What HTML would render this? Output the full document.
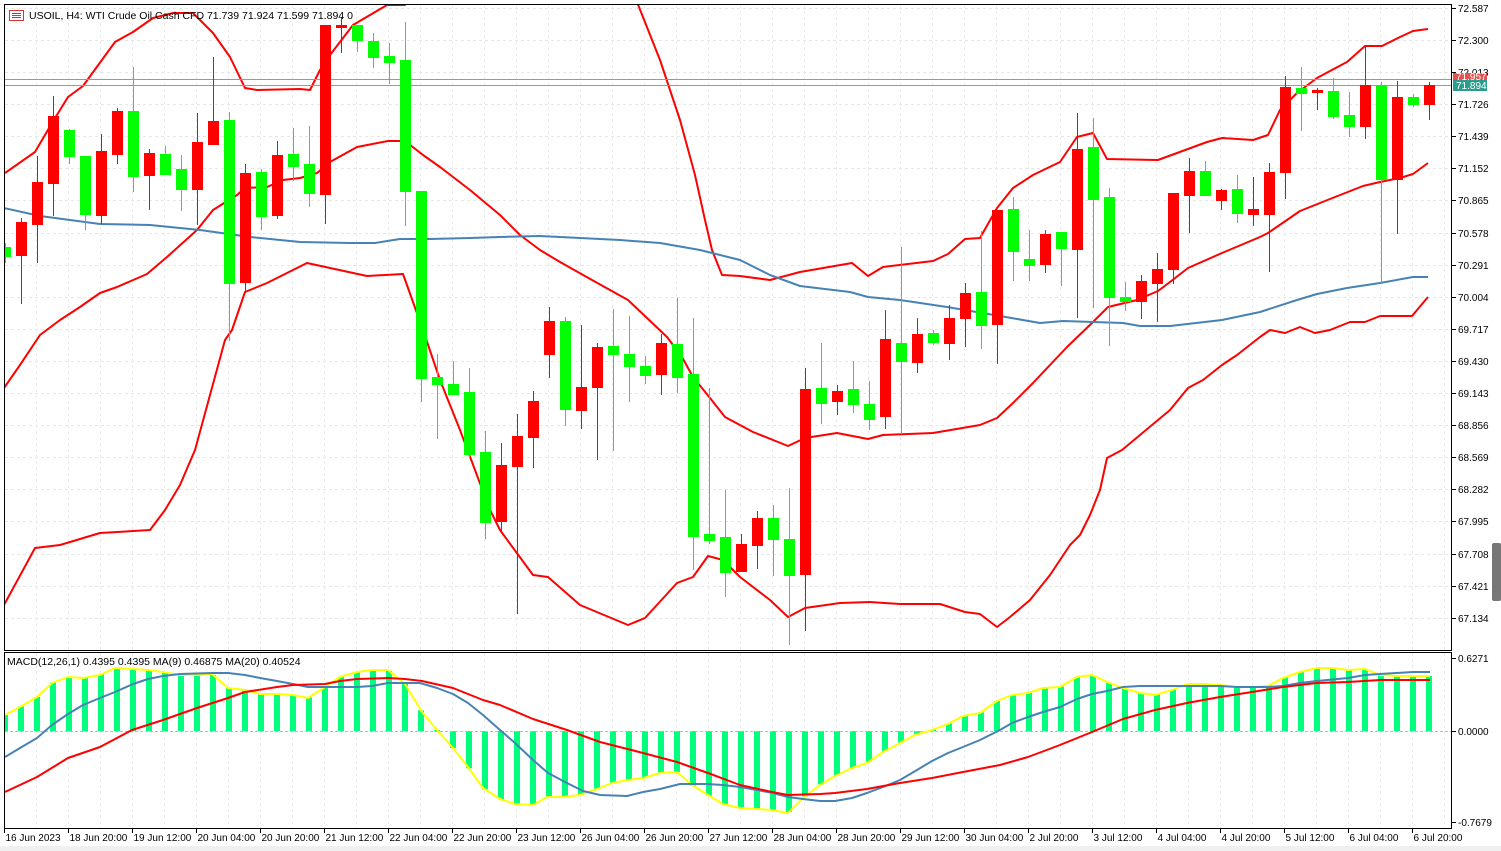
<!DOCTYPE html>
<html><head><meta charset="utf-8"><style>
html,body{margin:0;padding:0;background:#fff;width:1501px;height:851px;overflow:hidden}
svg{display:block;font-family:"Liberation Sans",sans-serif}
</style></head><body>
<svg id="s" width="1501" height="851" xmlns="http://www.w3.org/2000/svg">
<rect x="0" y="0" width="1501" height="851" fill="#fff"/>
<rect x="0" y="846" width="1501" height="5" fill="#f0f0f0"/>
<g id="grid"></g>
<defs>
<clipPath id="cm"><rect x="5" y="5" width="1446" height="645"/></clipPath>
<clipPath id="cd"><rect x="5" y="653" width="1446" height="175"/></clipPath>
</defs>
<g id="main" clip-path="url(#cm)"></g>
<g id="macd" clip-path="url(#cd)"></g>
<rect x="4.5" y="4.5" width="1447" height="646" fill="none" stroke="#000"/>
<rect x="4.5" y="652.5" width="1447" height="176" fill="none" stroke="#000"/>
<g id="axis" font-size="10" fill="#000"></g>
<!-- header -->
<rect x="9.5" y="10.5" width="14" height="10" fill="#fff" stroke="#d33"/>
<line x1="12" y1="13.5" x2="21" y2="13.5" stroke="#36c"/><line x1="12" y1="15.5" x2="21" y2="15.5" stroke="#d33"/><line x1="12" y1="17.5" x2="21" y2="17.5" stroke="#36c"/>
<text x="29" y="19" font-size="10.5">USOIL, H4:  WTI Crude Oil Cash CFD  71.739 71.924 71.599 71.894  0</text>
<text x="7" y="665" font-size="10.5">MACD(12,26,1) 0.4395 0.4395 MA(9) 0.46875 MA(20) 0.40524</text>
<rect x="1453" y="73" width="34" height="8" fill="#e85050"/>
<text x="1456" y="80" font-size="10" fill="#fff">71.957</text>
<rect x="1453" y="80" width="34" height="11" fill="#2a9d8f"/>
<text x="1456" y="89" font-size="10" fill="#fff">71.894</text>
<rect x="1492" y="543" width="9" height="58" rx="2" fill="#777"/>
</svg>
<script>
var NS="http://www.w3.org/2000/svg";
function el(p,t,a,txt){var e=document.createElementNS(NS,t);for(var k in a)e.setAttribute(k,a[k]);if(txt!==undefined)e.textContent=txt;document.getElementById(p).appendChild(e);return e;}
function pl(p,pts,c,w){el(p,"polyline",{points:pts.map(function(q){return q.join(",")}).join(" "),fill:"none",stroke:c,"stroke-width":w||2,"stroke-linejoin":"round"});}
// grid
var py=[8,40,72,104,136,168,200,233,265,297,329,361,393,425,457,489,521,554,586,618];
var pl_=["72.587","72.300","72.013","71.726","71.439","71.152","70.865","70.578","70.291","70.004","69.717","69.430","69.143","68.856","68.569","68.282","67.995","67.708","67.421","67.134"];
py.forEach(function(y,i){el("grid","line",{x1:5,x2:1451,y1:y+.5,y2:y+.5,stroke:"#e6e6e6","stroke-dasharray":"3,3"});
 el("axis","line",{x1:1451,x2:1456,y1:y+.5,y2:y+.5,stroke:"#000"});
 el("axis","text",{x:1458,y:y+4},pl_[i]);});
for(var x=36.5;x<1451;x+=32){el("grid","line",{x1:x,x2:x,y1:5,y2:650,stroke:"#ebebeb","stroke-dasharray":"3,3"});el("grid","line",{x1:x,x2:x,y1:653,y2:828,stroke:"#ebebeb","stroke-dasharray":"3,3"});}
// macd axis
[[658,"0.6271"],[731,"0.0000"],[822,"-0.7679"]].forEach(function(a){el("axis","line",{x1:1451,x2:1456,y1:a[0]+.5,y2:a[0]+.5,stroke:"#000"});el("axis","text",{x:1458,y:a[0]+4},a[1]);});
// time
var tl=["16 Jun 2023","18 Jun 20:00","19 Jun 12:00","20 Jun 04:00","20 Jun 20:00","21 Jun 12:00","22 Jun 04:00","22 Jun 20:00","23 Jun 12:00","26 Jun 04:00","26 Jun 20:00","27 Jun 12:00","28 Jun 04:00","28 Jun 20:00","29 Jun 12:00","30 Jun 04:00","2 Jul 20:00","3 Jul 12:00","4 Jul 04:00","4 Jul 20:00","5 Jul 12:00","6 Jul 04:00","6 Jul 20:00"];
tl.forEach(function(t,i){var x=4.5+64*i;el("axis","line",{x1:x,x2:x,y1:828,y2:833,stroke:"#000"});el("axis","text",{x:x+1+(i==0?0:0),y:841},t);});
// bands & MAs
pl("main",[[4,605],[35,548],[60,545],[100,533],[150,530],[165,510],[180,485],[195,450],[210,395],[225,340],[232,330],[245,292],[267,283],[307,263],[367,276],[403,274],[423,330],[440,380],[460,430],[475,470],[490,510],[500,530],[533,575],[548,577],[580,605],[628,625],[645,618],[677,583],[693,577],[708,556],[723,560],[740,577],[770,600],[788,617],[805,608],[840,603],[870,602],[900,604],[940,604],[965,612],[980,614],[997,627],[1010,617],[1030,600],[1050,575],[1070,545],[1080,535],[1090,515],[1100,490],[1107,458],[1122,450],[1140,435],[1170,410],[1188,388],[1203,380],[1222,365],[1237,355],[1260,337],[1270,330],[1285,333],[1300,327],[1315,333],[1330,330],[1350,322],[1365,322],[1380,316],[1412,316],[1428,297]],"#f00");
pl("main",[[4,388],[20,365],[40,335],[60,320],[80,307],[100,293],[117,287],[147,274],[167,257],[197,230],[213,210],[237,195],[245,188],[267,187],[283,180],[300,178],[317,173],[330,162],[357,147],[388,141],[405,141],[423,155],[440,167],[470,190],[500,215],[520,235],[540,250],[560,262],[592,280],[628,300],[647,318],[667,337],[682,357],[693,377],[710,398],[725,417],[753,432],[788,446],[805,438],[837,433],[868,439],[883,435],[933,433],[980,425],[997,418],[1013,403],[1033,383],[1067,347],[1093,322],[1108,307],[1137,300],[1158,291],[1170,282],[1188,268],[1222,253],[1260,237],[1268,233],[1300,211],[1330,199],[1363,186],[1380,182],[1400,178],[1413,174],[1428,163]],"#f00");
pl("main",[[5,173],[35,152],[52,123],[68,97],[83,86],[115,42],[133,32],[153,18],[173,13],[193,13],[213,33],[230,57],[245,88],[257,90],[300,89],[310,90],[320,70],[330,55],[353,25],[387,5],[405,5],[405,-5]],"#f00");
pl("main",[[637,2],[660,60],[680,120],[695,175],[705,220],[712,250],[722,275],[740,276],[770,280],[800,272],[852,263],[868,276],[883,267],[933,261],[948,254],[965,239],[980,238],[997,208],[1013,188],[1033,175],[1060,162],[1077,137],[1093,133],[1107,159],[1158,160],[1207,142],[1222,138],[1253,140],[1268,135],[1280,110],[1297,93],[1317,78],[1330,71],[1347,62],[1365,46],[1382,46],[1400,37],[1413,31],[1428,29]],"#f00");
pl("main",[[4,208],[40,216],[100,224],[150,225],[200,230],[250,237],[300,242],[350,243],[375,243],[400,239],[430,239],[470,238],[500,237],[540,236],[580,238],[620,240],[660,243],[700,250],[740,260],[770,275],[800,286],[850,292],[868,297],[900,300],[947,307],[1000,316],[1040,323],[1063,321],[1123,323],[1140,326],[1170,326],[1222,320],[1260,312],[1297,300],[1317,294],[1347,288],[1380,283],[1413,277],[1428,277]],"#4682b4");
// price lines
el("main","line",{x1:5,x2:1451,y1:79.5,y2:79.5,stroke:"#999"});
el("main","line",{x1:5,x2:1451,y1:85.5,y2:85.5,stroke:"#999"});
// candles
var C=[[247,256,243,262,'g'],[222,255,218,303,'r'],[182,224,156,262,'r'],[116,183,96,215,'r'],[130,156,129,163,'g'],[156,214,156,229,'g'],[151,215,134,223,'r'],[111,154,108,163,'r'],[111,176,67,191,'g'],[153,175,149,209,'r'],[154,174,146,174,'g'],[169,189,155,210,'g'],[142,189,113,224,'r'],[121,144,57,144,'r'],[120,283,112,340,'g'],[173,282,164,290,'r'],[172,216,169,229,'g'],[155,215,141,218,'r'],[154,166,128,180,'g'],[164,193,126,206,'g'],[25,194,25,223,'r'],[25,27,17,52,'r'],[25,40,25,51,'g'],[41,57,33,67,'g'],[56,62,43,83,'g'],[60,191,22,225,'g'],[191,378,191,401,'g'],[377,384,354,438,'g'],[384,394,361,394,'g'],[392,454,368,457,'g'],[452,522,431,538,'g'],[465,521,443,530,'r'],[436,466,414,613,'r'],[401,437,391,467,'r'],[321,354,307,377,'r'],[321,409,317,425,'g'],[387,410,325,428,'r'],[347,387,343,459,'r'],[346,354,309,450,'g'],[354,366,316,401,'g'],[366,375,356,383,'g'],[343,374,334,394,'r'],[344,377,298,392,'g'],[374,536,318,569,'g'],[534,540,388,543,'g'],[537,572,490,596,'g'],[544,571,534,571,'r'],[518,545,511,568,'r'],[518,539,505,575,'g'],[539,575,488,644,'g'],[389,574,368,630,'r'],[388,403,343,423,'g'],[391,401,385,414,'r'],[389,404,361,412,'g'],[404,419,381,429,'g'],[339,416,310,428,'r'],[343,361,247,433,'g'],[334,362,318,372,'r'],[333,342,330,344,'g'],[318,343,305,359,'r'],[293,318,283,346,'r'],[292,325,231,348,'g'],[210,324,210,363,'r'],[209,251,197,280,'g'],[259,265,230,280,'g'],[234,264,230,272,'r'],[232,248,232,285,'g'],[149,249,113,317,'r'],[147,199,118,307,'g'],[197,297,188,345,'g'],[297,301,282,310,'g'],[281,301,275,318,'r'],[269,283,253,321,'r'],[193,269,193,283,'r'],[171,195,158,232,'r'],[171,195,161,195,'g'],[190,200,189,209,'r'],[189,213,175,222,'g'],[209,214,177,225,'r'],[172,214,163,271,'r'],[87,172,76,198,'r'],[88,93,67,130,'g'],[90,92,88,109,'r'],[91,116,78,118,'g'],[115,126,92,136,'g'],[85,126,45,138,'r'],[85,179,82,283,'g'],[97,179,81,233,'r'],[97,104,94,106,'g'],[85,104,82,119,'r']];
C.forEach(function(c,i){var cx=5+16*i,col=c[4]=='g'?"#00ff00":"#ff0000";
 el("main","rect",{x:cx,y:c[2],width:1,height:c[3]-c[2]+1,fill:col});
 el("main","rect",{x:cx-5,y:c[0],width:11,height:Math.max(2,c[1]-c[0]+1),fill:col});});
// MACD
var Y=[[5,715],[20,707],[37,697],[52,683],[68,677],[83,678],[100,675],[115,668],[132,669],[148,670],[163,672],[180,675],[197,675],[212,674],[228,688],[245,690],[260,694],[277,694],[293,695],[308,698],[325,687],[340,677],[357,672],[372,670],[388,670],[405,684],[422,712],[437,730],[453,748],[468,767],[483,788],[500,799],[515,804],[533,805],[547,797],[563,797],[580,795],[597,789],[612,783],[628,780],[643,778],[660,773],[677,772],[692,785],[708,795],[723,804],[740,808],[757,809],[772,810],[788,813],[803,798],[820,785],[835,776],[852,768],[867,763],[883,752],[900,743],[915,735],[932,730],[948,724],[963,716],[980,713],[997,701],[1012,695],[1028,693],[1043,688],[1060,687],[1077,677],[1092,675],[1107,682],[1123,688],[1140,693],[1155,695],[1172,690],[1188,684],[1203,684],[1220,685],[1237,687],[1252,687],[1268,686],[1283,678],[1300,672],[1317,668],[1332,668],[1348,670],[1365,669],[1380,675],[1397,676],[1413,676],[1430,676]];
function yat(x){for(var k=1;k<Y.length;k++){if(x<=Y[k][0]){var a=Y[k-1],b=Y[k];return a[1]+(b[1]-a[1])*(x-a[0])/(b[0]-a[0]);}}return Y[Y.length-1][1];}
for(var i=0;i<90;i++){var cx=5+16*i,v=yat(cx);var t=Math.min(v,731),h=Math.abs(v-731);el("macd","rect",{x:cx-3,y:t,width:6,height:Math.max(1,h),fill:"#00ff7f"});}
el("macd","line",{x1:5,x2:1451,y1:731.5,y2:731.5,stroke:"#bbb","stroke-dasharray":"3,2"});
pl("macd",Y,"#ffff00");
pl("macd",[[5,757],[20,748],[37,738],[52,725],[68,714],[83,705],[100,698],[115,692],[133,684],[148,679],[163,676],[180,674],[213,673],[228,673],[245,675],[260,678],[277,681],[293,684],[308,687],[357,687],[372,686],[388,683],[420,683],[437,688],[453,694],[468,703],[483,715],[500,730],[515,743],[533,760],[548,773],[567,783],[583,791],[600,795],[627,796],[643,792],[660,789],[680,784],[707,784],[723,785],[740,787],[757,790],[773,793],[788,797],[803,799],[820,801],[835,801],[852,798],[867,793],[883,787],[900,780],[917,770],[932,761],[948,753],[963,747],[980,740],[1000,730],[1012,723],[1028,717],[1043,712],[1060,707],[1077,699],[1092,694],[1107,691],[1123,687],[1140,686],[1220,686],[1237,687],[1268,687],[1283,686],[1300,683],[1317,681],[1348,678],[1365,675],[1380,674],[1413,672],[1430,672]],"#4682b4");
pl("macd",[[5,792],[37,777],[68,758],[100,747],[132,730],[163,720],[197,708],[228,698],[245,692],[277,687],[293,685],[325,684],[340,681],[357,679],[388,678],[405,679],[422,681],[453,688],[483,700],[500,705],[533,719],[567,730],[600,742],[643,753],[677,762],[708,773],[740,785],[772,792],[788,795],[820,794],[835,793],[867,789],[900,783],[932,778],[963,772],[1000,765],[1028,757],[1060,745],[1092,732],[1123,719],[1155,710],[1187,703],[1220,697],[1252,692],[1283,687],[1317,683],[1348,682],[1380,680],[1430,680]],"#f00");
</script>
</body></html>
